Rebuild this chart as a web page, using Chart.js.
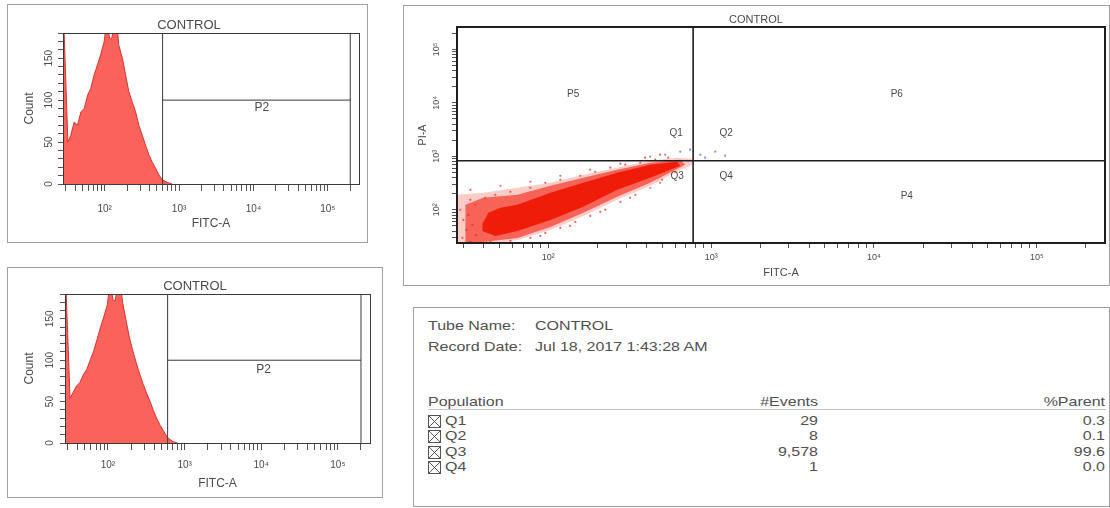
<!DOCTYPE html>
<html>
<head>
<meta charset="utf-8">
<script src="https://cdn.jsdelivr.net/npm/chart.js@4.4.1/dist/chart.umd.min.js"></script>
<style>
  html, body { margin:0; padding:0; background:#fff; }
  body { width:1110px; height:508px; position:relative; overflow:hidden; font-family:"Liberation Sans", Arial, sans-serif; }
  .box { position:absolute; border:1px solid #a0a0a0; box-sizing:border-box; }
  canvas { position:absolute; }
  .t { position:absolute; font-size:13px; line-height:14px; color:#505050; white-space:nowrap; transform:scaleX(1.23); transform-origin:left center; }
  .r { text-align:right; transform-origin:right center; }
  .hline { position:absolute; height:1px; background:#c4c4c4; }
  .cb { position:absolute; width:13px; height:13px; }
</style>
</head>
<body>
<div class="box" style="left:7px;top:4px;width:361px;height:239px"></div>
<div class="box" style="left:7px;top:267px;width:376px;height:231px"></div>
<div class="box" style="left:403px;top:5px;width:707px;height:281px"></div>
<div class="box" style="left:413px;top:307px;width:697px;height:200px"></div>
<canvas id="h1" width="358" height="236" style="left:8px;top:5px"></canvas>
<canvas id="h2" width="374" height="228" style="left:8px;top:268px"></canvas>
<canvas id="sc" width="705" height="278" style="left:404px;top:6px"></canvas>
<div id="table"></div>
<script>
// ---------------- data ----------------
const tubeName = 'CONTROL';
const recordDate = 'Jul 18, 2017 1:43:28 AM';

// axis ranges / ticks
const X_MIN = 27.5, X_MAX = 262144;
const SC_Y_MIN = 24, SC_Y_MAX = 262144;
const COUNT_MAX = 180;
const logTickValues = [30,40,50,60,70,80,90,100,200,300,400,500,600,700,800,900,1000,2000,3000,4000,5000,6000,7000,8000,9000,10000,20000,30000,40000,50000,60000,70000,80000,90000,100000,200000];
const decadeValues = [100, 1000, 10000, 100000];
const decadeLabels = ['10²', '10³', '10⁴', '10⁵'];
const countTickStep = 10;
const countLabelValues = [0, 50, 100, 150];

// histogram bins (FITC-A) and counts
const histBins = [28,32,35,39,43,48,53,59,65,72,80,88,98,104,110,117,124,132,148,155,173,191,211,234,260,288,320,355,392,436,482,535,593,692,805];
const histTopCounts = [200,50,58,74,70,86,90,106,114,130,142,154,169,186,186,173,173,186,184,165,150,130,110,98,86,70,58,46,35,26,19,11,5,2,0];
const histBottomCounts = [200,54,61,69,73,83,89,101,111,125,140,152,167,186,186,172,172,186,186,170,147,127,111,97,83,71,60,50,39,29,21,14,7,2,0];

// P2 gate (histograms)
const p2GateLow = 600, p2GateHigh = 200000, p2GateCount = 100;
const p2LabelTop = [13000, 91];
const p2LabelBottom = [10700, 88];

// quadrant gate (scatter)
const quadGateX = 775, quadGateY = 830;
const quadLabels = ['P5','P6','Q1','Q2','Q3','Q4','P4'];
const quadLabelX = [142, 13800, 610, 1236, 618, 1236, 15900];
const quadLabelY = [14400, 14400, 2670, 2670, 416, 416, 183];

// scatter cloud outlines [FITC-A, PI-A]
const cloudOuter = [[27.6,191],[39.9,208],[64.6,259],[103,321],[164,454],[265,614],[422.5,830],[618,946],[764,906],[764,698],[618,516],[422.5,282],[265,154],[164,77.1],[103,42.2],[64.6,27.4],[50.8,24],[27.6,24],[27.6,191]];
const cloudMid = [[31,124],[39.9,168],[64.6,191],[103,282],[164,398],[265,563],[422.5,762],[646,867],[692,698],[422.5,321],[265,175],[164,87.8],[103,48],[64.6,29.9],[39.9,25.1],[31,25.1],[31,124]];
const cloudCore = [[39.4,55],[42.9,87.8],[50.8,109],[64.6,124],[103,208],[164,321],[265,494],[422.5,698],[618,796],[646,669],[422.5,398],[265,237],[164,114],[103,64.9],[64.6,40.4],[47.3,32.5],[39.4,40.4],[39.4,55]];
const cloudSpeckles = [[33.2,154],[41,168],[47.3,191],[58.5,218],[77.6,259],[95.9,321],[118.5,365],[157,434],[194,516],[240,614],[297,698],[367,762],[453,867],[545,946],
  [33.2,25.1],[44.1,25.1],[58.5,26.2],[77.6,29.9],[95.9,37],[118.5,45.9],[146.6,59.5],[181,77.1],[224,100],[277,141],[342,191],[423,259],[500,365],[601,516],
  [28.8,100],[30.1,64.9],[31.4,42.2],[29.7,29.9],[32.3,80.5],[34.2,52.3],[36.1,34],[35.7,124],
  [33.2,237],[50.8,282],[77.6,335],[118.5,434],[181,563],[277,730],[393,946],[486,1077],[208.5,91.7],[318,168],[486,321],[136,50.1],[89.3,32.5]];
const cornerEvents = [[422,986],[522,1077],[646,1225],[857,1077],[1059,1225],[918,946],[743,1336],[1218,1031]];

// statistics table
const populations = ['Q1','Q2','Q3','Q4'];
const eventCounts = ['29','8','9,578','1'];
const parentPercents = ['0.3','0.1','99.6','0.0'];

// ---------------- helpers ----------------
const F = '"Liberation Sans", Arial, sans-serif';
const TXT = '#4a4a4a';
const pts = arr => arr.map(p => ({x: p[0], y: p[1]}));

const framePlugin = {
  id: 'frame',
  afterDatasetsDraw(chart, args, opts) {
    const {ctx, chartArea: a} = chart;
    const w = opts.width || 1;
    const o = (w % 2) ? 0.5 : 0;
    ctx.save();
    ctx.strokeStyle = opts.color || '#333';
    ctx.lineWidth = w;
    ctx.strokeRect(Math.round(a.left) + o, Math.round(a.top) + o, Math.round(a.right - a.left), Math.round(a.bottom - a.top));
    ctx.restore();
  }
};
const regionLabelPlugin = {
  id: 'regionLabels',
  afterDatasetsDraw(chart, args, opts) {
    const {ctx, scales} = chart;
    ctx.save();
    ctx.font = opts.font;
    ctx.fillStyle = opts.color;
    ctx.textAlign = 'center';
    ctx.textBaseline = 'middle';
    const n = opts.texts.length;
    for (let i = 0; i < n; i++) {
      ctx.fillText(opts.texts[i], scales.x.getPixelForValue(opts.xs[i]), scales.y.getPixelForValue(opts.ys[i]));
    }
    ctx.restore();
  }
};

function decadeLabel(v) {
  const i = decadeValues.indexOf(Number(v));
  return i >= 0 ? decadeLabels[i] : '';
}
function logAxis(o) {
  return {
    type: 'logarithmic', min: o.min, max: o.max, position: o.position,
    afterBuildTicks: s => { s.ticks = logTickValues.filter(v => v >= s.min && v <= s.max).map(v => ({value: v})); },
    afterFit: s => { if (o.position === 'bottom') s.height = o.size; else s.width = o.size; },
    ticks: Object.assign({autoSkip: false, padding: o.tickPad, color: TXT, font: {size: o.tickFont, family: F},
      callback: v => decadeLabel(v)}, o.position === 'left' ? {minRotation: 90, maxRotation: 90, crossAlign: 'center'} : {minRotation: 0, maxRotation: 0}),
    grid: {drawOnChartArea: false, drawTicks: true, tickLength: o.tickLen, color: '#555', tickWidth: 1},
    border: {display: true, color: '#333'},
    title: {display: true, text: o.title, color: TXT, font: {size: o.titleFont, family: F}, padding: o.titlePad}
  };
}
function countAxis(o) {
  return {
    type: 'linear', min: 0, max: COUNT_MAX, position: 'left',
    afterFit: s => { s.width = o.size; },
    ticks: {stepSize: countTickStep, autoSkip: false, padding: o.tickPad, color: TXT, font: {size: 10, family: F},
      minRotation: 90, maxRotation: 90, crossAlign: 'center',
      callback: v => countLabelValues.indexOf(v) >= 0 ? String(v) : ''},
    grid: {drawOnChartArea: false, drawTicks: true, tickLength: 5, color: '#555', tickWidth: 1},
    border: {display: true, color: '#333'},
    title: {display: true, text: 'Count', color: TXT, font: {size: 12, family: F}, padding: o.titlePad}
  };
}
function lineDs(data, color, width) {
  return {type: 'scatter', data: data, showLine: true, borderColor: color, borderWidth: width, pointRadius: 0, fill: false, tension: 0, clip: 0};
}

function histogram(id, counts, lbl, L) {
  const histData = histBins.map((x, i) => ({x: x, y: counts[i]}));
  new Chart(document.getElementById(id), {
    type: 'scatter',
    data: {
      datasets: [
        lineDs([{x: p2GateLow, y: 0}, {x: p2GateLow, y: COUNT_MAX}], '#3a3a3a', 1),
        lineDs([{x: p2GateHigh, y: 0}, {x: p2GateHigh, y: COUNT_MAX}], '#3a3a3a', 1),
        lineDs([{x: p2GateLow, y: p2GateCount}, {x: p2GateHigh, y: p2GateCount}], '#3a3a3a', 1),
        {type: 'scatter', data: histData, showLine: true, pointRadius: 0, tension: 0,
         borderColor: '#d8332f', borderWidth: 1, backgroundColor: 'rgb(250,98,92)', fill: 'origin', clip: 0}
      ]
    },
    options: {
      responsive: false, animation: false, devicePixelRatio: 1,
      layout: {padding: L.padding},
      plugins: {
        legend: {display: false}, tooltip: {enabled: false},
        title: {display: true, text: tubeName, color: TXT, font: {size: 13, family: F, weight: 'normal'}, padding: L.titlePad},
        frame: {color: '#3a3a3a', width: 1},
        regionLabels: {texts: ['P2'], xs: [lbl[0]], ys: [lbl[1]], font: '12px ' + F, color: TXT}
      },
      scales: {
        x: logAxis({min: X_MIN, max: X_MAX, position: 'bottom', size: L.xSize, tickPad: L.xTickPad, tickLen: 7, tickFont: 10, title: 'FITC-A', titleFont: 12, titlePad: {top: 0, bottom: L.xTitlePad}}),
        y: countAxis({size: L.ySize, tickPad: L.yTickPad, titlePad: {top: L.yTitlePad, bottom: 0}})
      }
    },
    plugins: [framePlugin, regionLabelPlugin]
  });
}

histogram('h1', histTopCounts, p2LabelTop, {
  padding: {left: 11, right: 7, top: 0, bottom: 0},
  titlePad: {top: 12.2, bottom: 0.2},
  xSize: 57, xTickPad: 12, xTitlePad: 9.8,
  ySize: 44, yTickPad: 0.7, yTitlePad: 3.8
});
histogram('h2', histBottomCounts, p2LabelBottom, {
  padding: {left: 12, right: 12, top: 0, bottom: 0},
  titlePad: {top: 10.4, bottom: 0},
  xSize: 53, xTickPad: 9, xTitlePad: 4.8,
  ySize: 45, yTickPad: 1.7, yTitlePad: 2.8
});

// scatter
new Chart(document.getElementById('sc'), {
  type: 'scatter',
  data: {
    datasets: [
      lineDs([{x: quadGateX, y: SC_Y_MIN}, {x: quadGateX, y: SC_Y_MAX}], '#1e1e1e', 1.6),
      lineDs([{x: X_MIN, y: quadGateY}, {x: X_MAX, y: quadGateY}], '#1e1e1e', 1.6),
      {data: pts(cornerEvents), pointRadius: 1.1, pointBorderWidth: 0, backgroundColor: 'rgba(140,110,205,0.85)', clip: 0},
      {data: pts(cloudSpeckles), pointRadius: 1.1, pointBorderWidth: 0, backgroundColor: 'rgba(238,45,30,0.75)', clip: 0},
      {data: pts(cloudCore), showLine: true, pointRadius: 0, borderWidth: 0, backgroundColor: 'rgb(240,28,10)', fill: 'shape', clip: 0},
      {data: pts(cloudMid), showLine: true, pointRadius: 0, borderWidth: 0, backgroundColor: 'rgba(245,55,38,0.7)', fill: 'shape', clip: 0},
      {data: pts(cloudOuter), showLine: true, pointRadius: 0, borderWidth: 0, backgroundColor: 'rgba(252,120,110,0.38)', fill: 'shape', clip: 0}
    ]
  },
  options: {
    responsive: false, animation: false, devicePixelRatio: 1,
    layout: {padding: {left: 3, right: 4, top: 0, bottom: 0}},
    plugins: {
      legend: {display: false}, tooltip: {enabled: false},
      title: {display: true, text: tubeName, color: TXT, font: {size: 11, family: F, weight: 'normal'}, padding: {top: 7.4, bottom: 0.4}},
      frame: {color: '#1e1e1e', width: 2},
      regionLabels: {texts: quadLabels, xs: quadLabelX, ys: quadLabelY, font: '10px ' + F, color: TXT}
    },
    scales: {
      x: logAxis({min: X_MIN, max: X_MAX, position: 'bottom', size: 41, tickPad: 4.6, tickLen: 5, tickFont: 9, title: 'FITC-A', titleFont: 11, titlePad: {top: 0, bottom: 4.4}}),
      y: logAxis({min: SC_Y_MIN, max: SC_Y_MAX, position: 'left', size: 50, tickPad: 8.5, tickLen: 5, tickFont: 9, title: 'PI-A', titleFont: 11, titlePad: {top: 9.4, bottom: 0}})
    }
  },
  plugins: [framePlugin, regionLabelPlugin]
});

// ---------------- statistics table (HTML text) ----------------
(function () {
  const root = document.getElementById('table');
  let h = '';
  h += '<div class="t" style="left:428px;top:319px">Tube Name:</div>';
  h += '<div class="t" style="left:535px;top:319px">' + tubeName + '</div>';
  h += '<div class="t" style="left:428px;top:340px">Record Date:</div>';
  h += '<div class="t" style="left:535px;top:340px">' + recordDate + '</div>';
  h += '<div class="t" style="left:428px;top:395px">Population</div>';
  h += '<div class="t r" style="left:718px;width:100px;top:395px">#Events</div>';
  h += '<div class="t r" style="left:1005px;width:100px;top:395px">%Parent</div>';
  h += '<div class="hline" style="left:428px;top:409px;width:678px"></div>';
  const rowTop = [414, 429, 445, 460];
  const svg = '<svg width="13" height="13" viewBox="0 0 13 13"><rect x="0.5" y="0.5" width="12" height="12" fill="none" stroke="#555" stroke-width="1"/><path d="M1 1 L12 12 M12 1 L1 12" stroke="#555" stroke-width="1"/></svg>';
  populations.forEach((p, i) => {
    h += '<div class="cb" style="left:428px;top:' + (rowTop[i]) + 'px">' + svg + '</div>';
    h += '<div class="t" style="left:445px;top:' + rowTop[i] + 'px">' + p + '</div>';
    h += '<div class="t r" style="left:718px;width:100px;top:' + rowTop[i] + 'px">' + eventCounts[i] + '</div>';
    h += '<div class="t r" style="left:1005px;width:100px;top:' + rowTop[i] + 'px">' + parentPercents[i] + '</div>';
  });
  root.innerHTML = h;
})();
</script>
</body>
</html>
